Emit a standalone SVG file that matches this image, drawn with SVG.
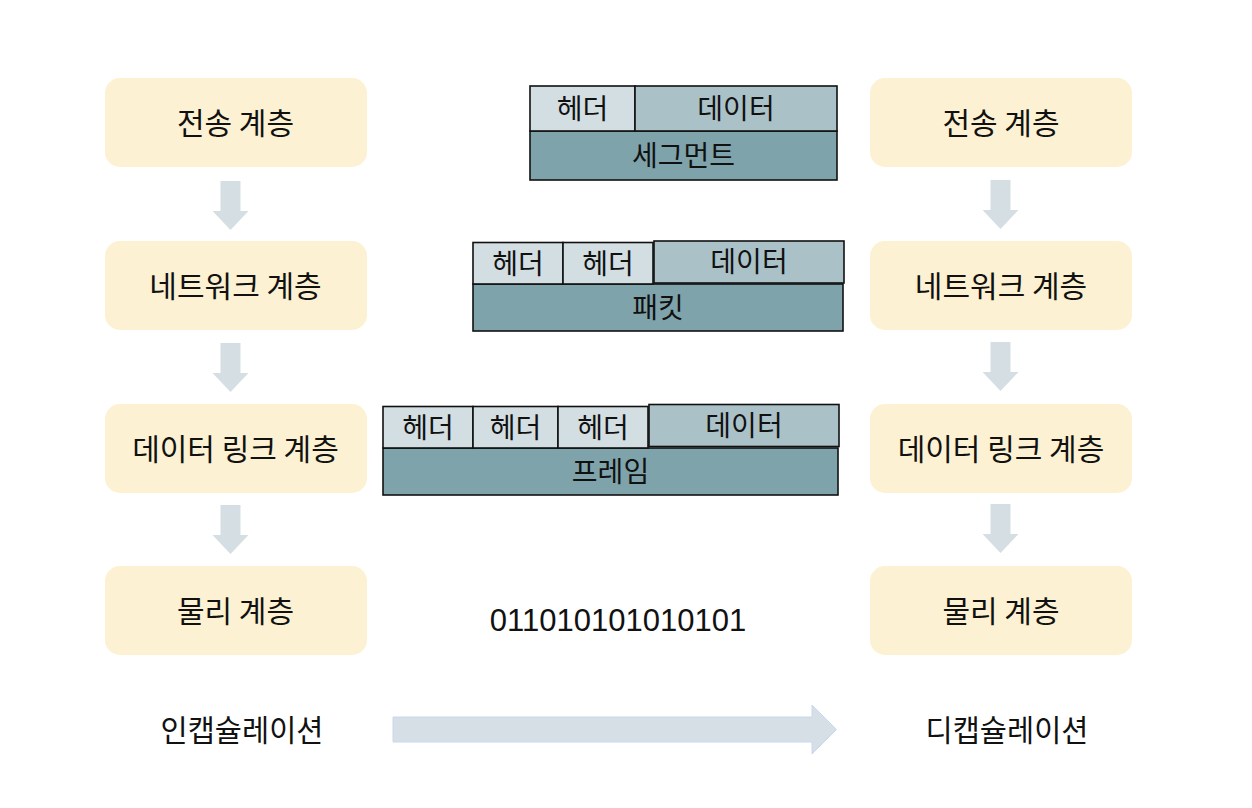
<svg xmlns="http://www.w3.org/2000/svg" width="1252" height="808" viewBox="0 0 1252 808">
<defs>
<style>
.box{fill:#FCF1D2;}
.lbl{font-family:"Noto Sans CJK KR","Noto Sans",sans-serif;font-size:30px;fill:#111;text-anchor:middle;}
.cap{font-family:"Noto Sans CJK KR","Noto Sans",sans-serif;font-size:29.5px;fill:#111;text-anchor:middle;}
.blk{font-family:"Noto Sans CJK KR","Noto Sans",sans-serif;font-size:28px;fill:#111;text-anchor:middle;}
.hdr{fill:#D3DEE2;stroke:#111;stroke-width:1.6;}
.dat{fill:#AAC2C7;stroke:#111;stroke-width:1.6;}
.pdu{fill:#7FA3AB;stroke:#111;stroke-width:1.6;}
.dn{fill:#D5DFE3;}
</style>
<path id="down" d="M-10,0 H10 V30 H18 L0,49 L-18,30 H-10 Z"/>
</defs>
<rect width="1252" height="808" fill="#ffffff"/>

<g id="left-transport"><rect class="box" x="105" y="78" width="262" height="89" rx="15"/><text class="lbl" x="235.5" y="134">전송 계층</text></g>
<g id="left-network"><rect class="box" x="105" y="241" width="262" height="89" rx="15"/><text class="lbl" x="235.5" y="297">네트워크 계층</text></g>
<g id="left-datalink"><rect class="box" x="105" y="404" width="262" height="89" rx="15"/><text class="lbl" x="235.5" y="460">데이터 링크 계층</text></g>
<g id="left-physical"><rect class="box" x="105" y="566" width="262" height="89" rx="15"/><text class="lbl" x="235.5" y="622">물리 계층</text></g>

<g id="right-transport"><rect class="box" x="870" y="78" width="262" height="89" rx="15"/><text class="lbl" x="1001" y="134">전송 계층</text></g>
<g id="right-network"><rect class="box" x="870" y="241" width="262" height="89" rx="15"/><text class="lbl" x="1001" y="297">네트워크 계층</text></g>
<g id="right-datalink"><rect class="box" x="870" y="404" width="262" height="89" rx="15"/><text class="lbl" x="1001" y="460">데이터 링크 계층</text></g>
<g id="right-physical"><rect class="box" x="870" y="566" width="262" height="89" rx="15"/><text class="lbl" x="1001" y="622">물리 계층</text></g>

<g id="connectors">
<use href="#down" class="dn" x="230.5" y="181"/>
<use href="#down" class="dn" x="230.5" y="343"/>
<use href="#down" class="dn" x="230.5" y="505"/>
<use href="#down" class="dn" x="1000.5" y="180"/>
<use href="#down" class="dn" x="1000.5" y="342"/>
<use href="#down" class="dn" x="1000.5" y="504"/>
<path d="M393,717 H812 V705 L836.5,729.5 L812,754 V742 H393 Z" fill="#D5DFE5" stroke="#C9D8F0" stroke-width="1"/>
</g>

<g id="segment">
<rect class="pdu" x="530" y="131" width="307" height="49"/>
<rect class="hdr" x="530" y="86" width="105" height="45"/>
<rect class="dat" x="635" y="86" width="202" height="45"/>
<text class="blk" x="582.5" y="119">헤더</text>
<text class="blk" x="736" y="119">데이터</text>
<text class="blk" x="683.5" y="166">세그먼트</text>
</g>

<g id="packet">
<rect class="pdu" x="473" y="284" width="370" height="47"/>
<rect class="hdr" x="473" y="242.5" width="90" height="41.5"/>
<rect class="hdr" x="563" y="242.5" width="90" height="41.5"/>
<rect class="dat" x="654" y="241" width="190" height="42"/>
<text class="blk" x="518" y="274">헤더</text>
<text class="blk" x="608" y="274">헤더</text>
<text class="blk" x="749" y="272">데이터</text>
<text class="blk" x="658" y="318">패킷</text>
</g>

<g id="frame">
<rect class="pdu" x="383" y="448" width="455" height="47"/>
<rect class="hdr" x="383" y="406.5" width="90" height="41.5"/>
<rect class="hdr" x="473" y="406.5" width="85" height="41.5"/>
<rect class="hdr" x="558" y="406.5" width="90" height="41.5"/>
<rect class="dat" x="649" y="404.5" width="190" height="42"/>
<text class="blk" x="428" y="438">헤더</text>
<text class="blk" x="515.5" y="438">헤더</text>
<text class="blk" x="603" y="438">헤더</text>
<text class="blk" x="744" y="436">데이터</text>
<text class="blk" x="610.5" y="482">프레임</text>
</g>

<g id="bits"><text x="618" y="631" font-family="Liberation Sans,Arial,sans-serif" font-size="31" fill="#111" text-anchor="middle">011010101010101</text></g>
<g id="encap"><text class="cap" x="242" y="741">인캡슐레이션</text></g>
<g id="decap"><text class="cap" x="1007" y="741">디캡슐레이션</text></g>
</svg>
